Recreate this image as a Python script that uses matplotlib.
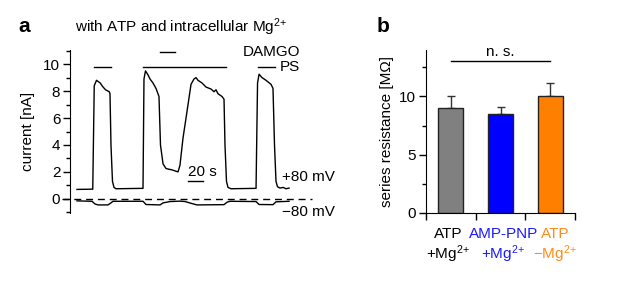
import numpy as np
import matplotlib
matplotlib.use('Agg')
import matplotlib.pyplot as plt
from matplotlib.ticker import MultipleLocator

plt.rcParams['font.family'] = ['Liberation Sans', 'DejaVu Sans']
plt.rcParams['font.size'] = 11
plt.rcParams['mathtext.fontset'] = 'custom'
plt.rcParams['mathtext.rm'] = 'Liberation Sans'
plt.rcParams['mathtext.it'] = 'Liberation Sans:italic'

# ---- panel a: current trace (time in s, current in nA)
t_pos = [0, 21, 23, 26, 31, 34, 38, 43, 44, 45.3, 47.3, 49.3, 52,
         88, 89.3, 91.3, 94.7, 97.3, 101.3, 105.3, 109.3, 111.3, 114.7, 118.7, 126.7, 134.7,
         137.3, 141.3, 146.7, 152, 156, 158.7, 161.3, 166.7, 172, 178.7, 182.7, 185.3, 188, 193.3, 196,
         197.3, 199.3, 201.3, 205.3,
         238.7, 240.7, 242.7, 246.7, 252, 258.7, 261.3, 263.3, 265.3, 267.3, 270.7, 274.7, 278.7, 282.7]
i_pos = [0.70, 0.72, 8.4, 8.8, 8.6, 8.35, 8.1, 7.95, 7.8, 4.0, 1.3, 0.85, 0.75,
         0.78, 8.9, 9.5, 9.2, 8.9, 8.6, 8.2, 7.6, 4.0, 2.6, 2.25, 2.15, 2.0,
         2.5, 4.5, 6.5, 8.5, 8.9, 9.0, 8.8, 8.6, 8.3, 8.15, 7.95, 8.1, 7.8, 7.6, 7.4,
         4.0, 1.3, 0.85, 0.75,
         0.78, 8.6, 9.25, 9.0, 8.8, 8.5, 8.2, 4.0, 1.3, 0.9, 0.8, 0.85, 0.75, 0.8]

t_neg = [0, 20, 24, 28, 41.3, 45.3, 48, 88, 92, 110.7, 114.7, 124, 137.3, 144,
         153.3, 160, 196, 200, 204, 238.7, 242.7, 261.3, 265.3, 282.7]
i_neg = [-0.15, -0.18, -0.38, -0.45, -0.45, -0.3, -0.18, -0.18, -0.42, -0.45, -0.3, -0.2, -0.17, -0.2,
         -0.35, -0.45, -0.43, -0.25, -0.18, -0.2, -0.42, -0.43, -0.22, -0.18]

ps_bars = [(22.7, 45.3), (88, 198.7), (241.3, 264)]
damgo_bars = [(110.7, 130.7)]

# ---- panel b: series resistance
groups = ['ATP', 'AMP-PNP', 'ATP']
groups2 = ['+Mg$^{2\\!+}$', '+Mg$^{2\\!+}$', '\u2212Mg$^{2\\!+}$']
rs_mean = [9.0, 8.45, 10.0]
rs_err = [1.0, 0.65, 1.2]
bar_colors = ['#808080', '#0000ff', '#ff8000']
label_colors = ['black', '#1a1aff', '#ff8c1a']

fig = plt.figure(figsize=(6.17, 2.91), dpi=100)

W, H = 617.0, 291.0
ax1 = fig.add_axes([70 / W, 1 - 213 / H, 242 / W, 163 / H])
ax1.plot(t_pos, i_pos, color='black', lw=1)
ax1.plot(t_neg, i_neg, color='black', lw=1)
ax1.plot([-20, 313], [0, 0], color='black', lw=1, linestyle=(0, (5, 3.5)), clip_on=False)
for a, b in ps_bars:
    ax1.plot([a, b], [9.78, 9.78], color='black', lw=1)
for a, b in damgo_bars:
    ax1.plot([a, b], [10.9, 10.9], color='black', lw=1)
ax1.text(297, 10.9, 'DAMGO', ha='right', va='center', clip_on=False)
ax1.text(297, 9.78, 'PS', ha='right', va='center')
ax1.plot([148, 168], [1.36, 1.36], color='black', lw=1)
ax1.text(167, 1.5, '20 s', ha='center', va='bottom')
ax1.text(273, 1.63, '+80 mV', ha='left', va='center')
ax1.text(273, -0.96, '\u221280 mV', ha='left', va='center')
ax1.set_xlim(-9.33, 313.3)
ax1.set_ylim(-1.05, 11.05)
ax1.set_yticks([0, 2, 4, 6, 8, 10])
ax1.yaxis.set_minor_locator(MultipleLocator(1))
ax1.tick_params(axis='y', which='major', direction='out', length=5, width=1, pad=2)
ax1.tick_params(axis='y', which='minor', direction='out', length=3, width=1)
ax1.set_xticks([])
for s in ['top', 'right', 'bottom']:
    ax1.spines[s].set_visible(False)
ax1.set_ylabel('current [nA]', labelpad=6)

ax2 = fig.add_axes([426 / W, 1 - 212.7 / H, 149 / W, 162.7 / H])
xpos = np.arange(len(rs_mean))
ax2.bar(xpos, rs_mean, width=0.5, color=bar_colors, edgecolor='#222222', linewidth=1, zorder=2)
ax2.errorbar(xpos, rs_mean, yerr=[np.zeros(3), rs_err], fmt='none', ecolor='#333333',
             elinewidth=1, capsize=3, capthick=1, zorder=1)
ax2.plot([0, 2], [13.05, 13.05], color='black', lw=1)
ax2.text(1, 13.25, 'n. s.', ha='center', va='bottom')
ax2.set_xlim(-0.5, 2.5)
ax2.set_ylim(0, 14)
ax2.set_xticks([-0.5, 0.5, 1.5, 2.5])
ax2.set_xticklabels([])
ax2.set_yticks([0, 5, 10])
ax2.yaxis.set_minor_locator(MultipleLocator(2.5))
ax2.tick_params(which='major', direction='out', length=5, width=1, pad=2)
ax2.tick_params(which='minor', direction='out', length=3, width=1)
for s in ['top', 'right']:
    ax2.spines[s].set_visible(False)
ax2.set_ylabel('series resistance [M\u03a9]', labelpad=4)
lab_x = [-0.06, 1.06, 2.1]
for k in range(3):
    ax2.text(lab_x[k], -0.156, groups[k], color=label_colors[k], ha='center', va='baseline',
             transform=ax2.get_xaxis_transform())
    ax2.text(lab_x[k], -0.285, groups2[k], color=label_colors[k], ha='center', va='baseline',
             transform=ax2.get_xaxis_transform())

fig.text(181 / W, 1 - 27 / H, 'with ATP and intracellular Mg$^{2\\!+}$', ha='center', va='center')
fig.text(18 / W, 1 - 27 / H, 'a', fontsize=15, fontweight='bold', va='center')
fig.text(377 / W, 1 - 27 / H, 'b', fontsize=15, fontweight='bold', va='center')

fig.savefig('out.png', dpi=100)
